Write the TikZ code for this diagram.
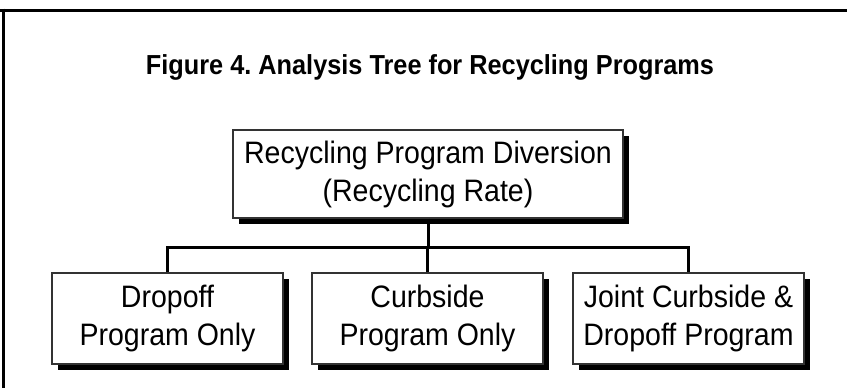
\documentclass[tikz,border=0pt]{standalone}
\usepackage{fontspec}
\setmainfont{Liberation Sans}
\newfontfamily\narrowsans[FakeStretch=0.92]{Liberation Sans}
\usetikzlibrary{shadows}
\frenchspacing
\begin{document}
\begin{tikzpicture}[x=1pt,y=-1pt,
  boxnode/.style={draw=black!80, line width=1.2pt, fill=white, align=center,
    inner sep=0pt, font=\narrowsans\fontsize{31}{38}\selectfont,
    drop shadow={shadow xshift=6pt, shadow yshift=-6pt, fill=black, opacity=1}},
  conn/.style={line width=3pt, black},
  frame/.style={line width=3pt, black}]
\useasboundingbox (0,0) rectangle (847,388);
% frame
\draw[frame] (0,10) -- (847,10);
\draw[frame] (3,8.5) -- (3,388);
% title
\node[font=\narrowsans\bfseries\fontsize{27.5}{32}\selectfont] (title) at (430,67) {Figure 4. Analysis Tree for Recycling Programs};
% boxes
\node[boxnode, minimum width=390pt, minimum height=88pt] (top) at (428,174) {Recycling Program Diversion\\(Recycling Rate)};
\node[boxnode, minimum width=231pt, minimum height=91pt] (b1) at (167.5,318.5) {Dropoff\\Program Only};
\node[boxnode, minimum width=231pt, minimum height=91pt] (b2) at (427.5,318.5) {Curbside\\Program Only};
\node[boxnode, minimum width=231pt, minimum height=91pt] (b3) at (688.5,318.5) {Joint Curbside \&\\Dropoff Program};
% connectors
\coordinate (j) at (428,247);
\draw[conn] (top.south) -- (j);
\draw[conn] (b1.north) |- (j) -| (b3.north);
\draw[conn] (b2.north) -- (b2.north |- j);
\end{tikzpicture}
\end{document}
